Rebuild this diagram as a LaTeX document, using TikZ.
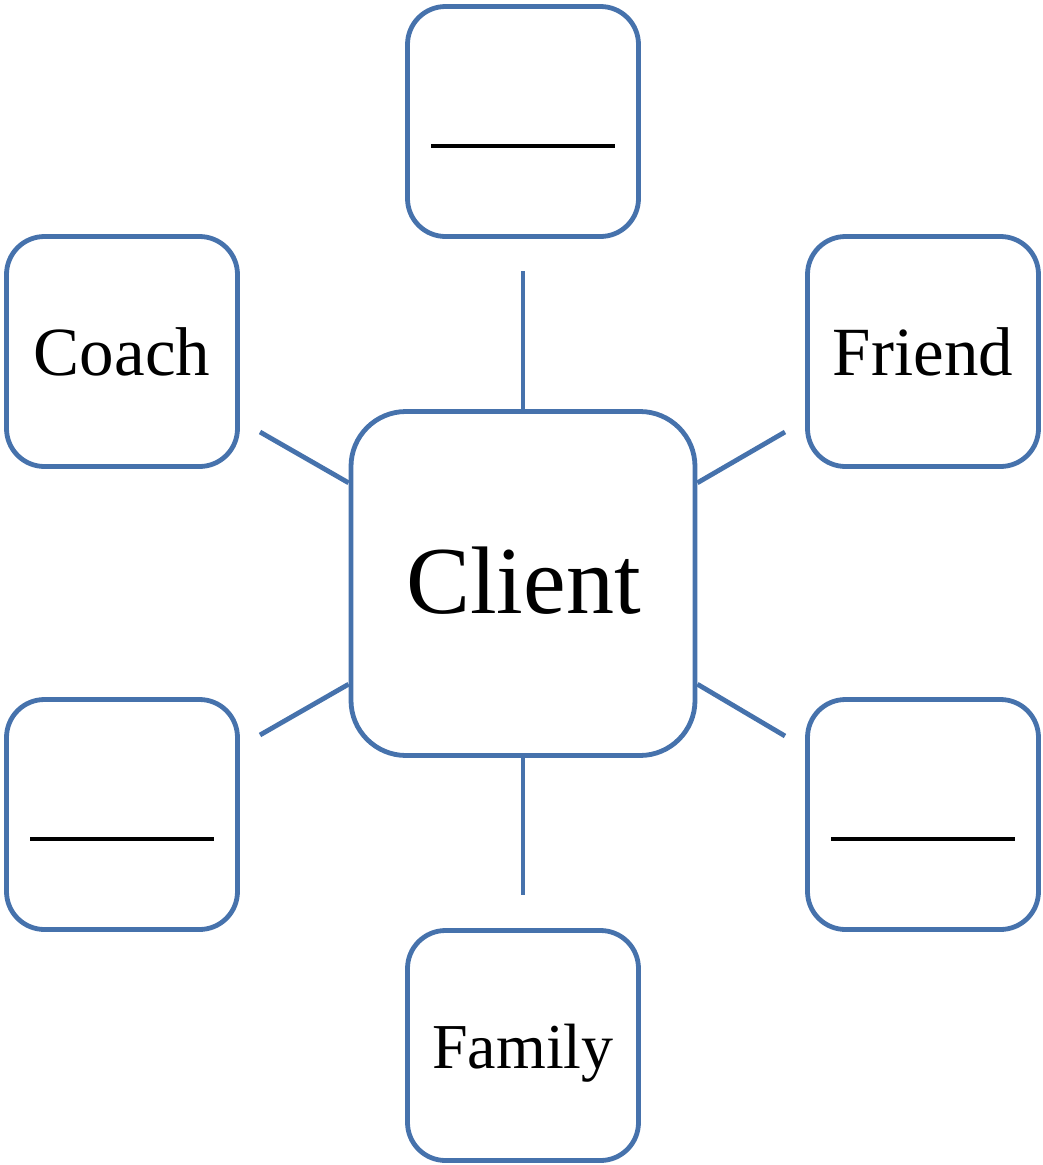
\documentclass[tikz,border=0pt]{standalone}
\usepackage{fontspec}
\setmainfont{Liberation Serif}
\definecolor{boxblue}{RGB}{70,114,172}
\begin{document}
\begin{tikzpicture}[x=1pt,y=-1pt,
  outer/.style={draw=boxblue,line width=4.8pt,rounded corners=38pt,minimum width=231pt,minimum height=230pt,inner sep=0pt},
  centre/.style={draw=boxblue,line width=4.8pt,rounded corners=55pt,minimum width=344pt,minimum height=344pt,inner sep=0pt},
  link/.style={draw=boxblue,line width=4.8pt},
  blank/.style={draw=black,line width=4pt},
  lbl/.style={anchor=base,inner sep=0pt,font=\fontsize{69}{80}\selectfont}]
\useasboundingbox (0,0) rectangle (1043,1165);
\node[centre] (client) at (523,583.5) {};
\node[outer] (top) at (523,121.5) {};
\node[outer] (coach) at (122,351.5) {};
\node[outer] (friend) at (923,351.5) {};
\node[outer] (bl) at (122,814.5) {};
\node[outer] (br) at (923,814.5) {};
\node[outer] (family) at (523,1045.5) {};
\node[lbl,font=\fontsize{96}{110}\selectfont] (clientlbl) at (523.5,613) {Client};
\node[lbl] (coachlbl) at (122,375) {Coach};
\node[lbl] (friendlbl) at (923,375) {Friend};
\node[lbl,font=\fontsize{64}{76}\selectfont] (familylbl) at (523,1068) {Family};
\coordinate (ct) at (523,271);
\coordinate (cb) at (523,895);
\coordinate (cnw) at (260,432);
\coordinate (cne) at (785,432);
\coordinate (csw) at (260,735);
\coordinate (cse) at (785,736);
\draw[link] (client.north) -- (ct);
\draw[link] (client.south) -- (cb);
\draw[link] (client.150) -- (cnw);
\draw[link] (client.30) -- (cne);
\draw[link] (client.210) -- (csw);
\draw[link] (client.330) -- (cse);
\draw[blank] ([xshift=-92pt,yshift=-24.5pt]top.center) -- ([xshift=92pt,yshift=-24.5pt]top.center);
\draw[blank] ([xshift=-92pt,yshift=-24.5pt]bl.center) -- ([xshift=92pt,yshift=-24.5pt]bl.center);
\draw[blank] ([xshift=-92pt,yshift=-24.5pt]br.center) -- ([xshift=92pt,yshift=-24.5pt]br.center);
\end{tikzpicture}
\end{document}
